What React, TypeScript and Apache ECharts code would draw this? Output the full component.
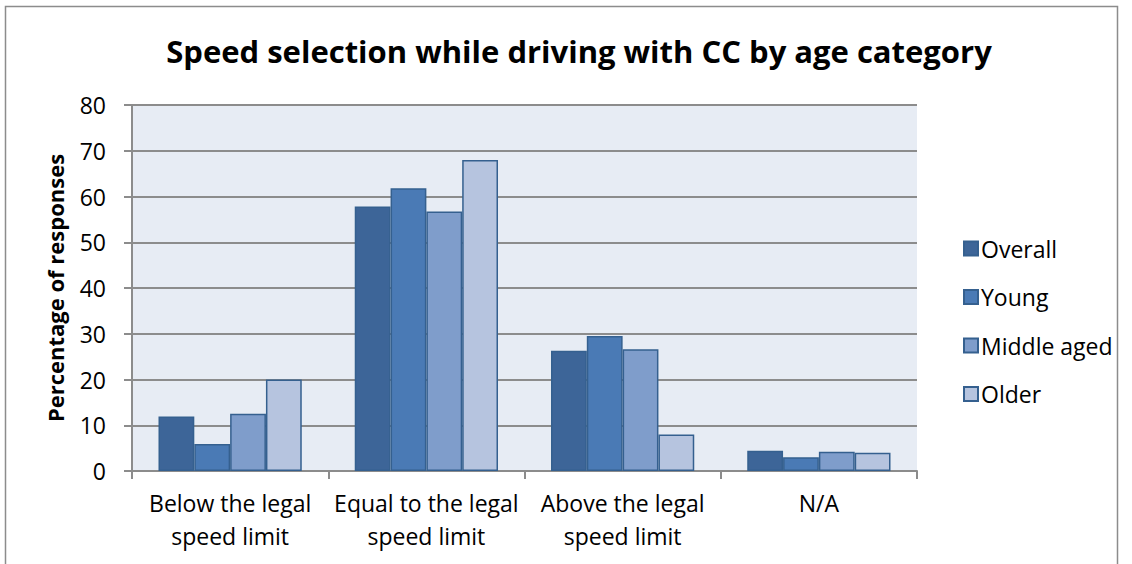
import React, { useEffect, useRef } from "react";
import * as echarts from "echarts";

const categories = ["Below the legal\nspeed limit", "Equal to the legal\nspeed limit", "Above the legal\nspeed limit", "N/A"];
const seriesNames = ["Overall", "Young", "Middle aged", "Older"];
const overall = [11.9, 57.8, 26.3, 4.4];
const young = [5.9, 61.8, 29.5, 3.0];
const middleAged = [12.5, 56.7, 26.6, 4.2];
const older = [20.0, 68.0, 8.0, 4.0];
const seriesColors = ["#3D6598", "#4A7AB5", "#7F9DCB", "#B6C4DF"];
const yTicks = { min: 0, max: 80, interval: 10 };

const FONT = "'Open Sans', sans-serif";

export default function App() {
  const ref = useRef<HTMLDivElement>(null);
  useEffect(() => {
    document.body.style.margin = "0";
    const chart = echarts.init(ref.current!, null, { renderer: "svg" });
    const values = [overall, young, middleAged, older];
    chart.setOption({
      animation: false,
      backgroundColor: "#ffffff",
      title: {
        text: "Speed selection while driving with CC by age category",
        left: 574,
        textAlign: "center",
        top: 30,
        textStyle: { fontSize: 31, fontWeight: "bold", color: "#000", fontFamily: FONT },
      },
      graphic: [
        {
          type: "rect",
          shape: { x: 5.5, y: 6.5, width: 1112, height: 600 },
          style: { fill: "none", stroke: "#8c8c8c", lineWidth: 1.5 },
          silent: true,
          z: -10,
        },
      ],
      legend: {
        orient: "vertical",
        left: 958,
        top: 232,
        itemWidth: 14,
        itemHeight: 14,
        itemGap: 25.5,
        icon: "rect",
        textStyle: { fontSize: 23, color: "#000", fontFamily: FONT, padding: [0, 0, 0, -2] },
        data: seriesNames,
      },
      grid: {
        left: 132,
        right: 215,
        top: 105,
        bottom: 93,
        show: true,
        backgroundColor: "#E7ECF4",
        borderWidth: 0,
      },
      xAxis: {
        type: "category",
        data: categories,
        axisLine: { show: true, lineStyle: { color: "#8c8c8c", width: 2 } },
        axisTick: { show: true, length: 8, interval: 0, lineStyle: { color: "#8c8c8c", width: 2 } },
        axisLabel: {
          interval: 0,
          margin: 15,
          fontSize: 23,
          lineHeight: 33,
          color: "#000",
          fontFamily: FONT,
        },
      },
      yAxis: {
        type: "value",
        min: yTicks.min,
        max: yTicks.max,
        interval: yTicks.interval,
        name: "Percentage of responses",
        nameLocation: "middle",
        nameGap: 66,
        nameTextStyle: { fontSize: 22, fontWeight: "bold", color: "#000", fontFamily: FONT },
        axisLine: { show: true, lineStyle: { color: "#8c8c8c", width: 2 } },
        axisTick: { show: true, length: 8, lineStyle: { color: "#8c8c8c", width: 2 } },
        axisLabel: { fontSize: 23, color: "#000", margin: 26, fontFamily: FONT },
        splitLine: { show: true, lineStyle: { color: "#8c8c8c", width: 2 } },
      },
      series: seriesNames.map((name, i) => ({
        name,
        type: "bar",
        data: values[i],
        barGap: "0%",
        barCategoryGap: "27%",
        itemStyle: { color: seriesColors[i], borderColor: "#35608F", borderWidth: 1.5 },
      })),
    });
    return () => chart.dispose();
  }, []);
  return <div ref={ref} style={{ width: 1132, height: 564 }} />;
}
